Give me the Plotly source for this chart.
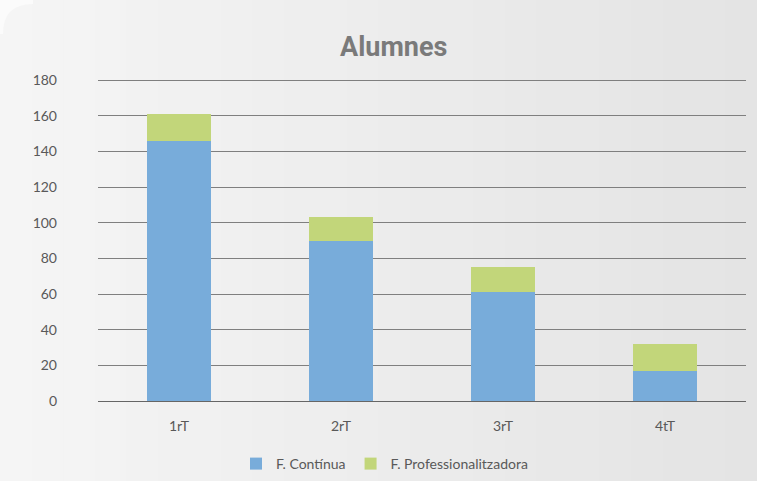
import plotly.graph_objects as go

categories = ["1rT", "2rT", "3rT", "4tT"]
continua = [146, 90, 61, 17]
professionalitzadora = [15, 13, 14, 15]
y_ticks = [0, 20, 40, 60, 80, 100, 120, 140, 160, 180]

W, H = 757, 481
ML, MR, MT, MB = 98, 11, 79, 80
PW, PH = W - ML - MR, H - MT - MB


def px(x):
    return (x - ML) / PW


def py(y):
    return (H - MB - y) / PH


fig = go.Figure()
fig.add_trace(go.Bar(x=categories, y=continua, name="F. Contínua",
                     marker=dict(color="#78ACDA", line=dict(width=0))))
fig.add_trace(go.Bar(x=categories, y=professionalitzadora, name="F. Professionalitzadora",
                     marker=dict(color="#C2D67A", line=dict(width=0))))

# background gradient strips (left light -> right darker)
n = 24
c0, c1 = 0xF5, 0xE4
for i in range(n):
    v = round(c0 + (c1 - c0) * i / (n - 1))
    col = f"rgb({v},{v},{v})"
    x0 = W * i / n
    x1 = W * (i + 1) / n + 1
    fig.add_shape(type="rect", xref="paper", yref="paper", layer="below",
                  x0=px(x0), x1=px(x1), y0=py(H), y1=py(0),
                  fillcolor=col, line=dict(width=0))
# rounded top-left corner (outer area lighter)
r = 30
fig.add_shape(type="path", xref="paper", yref="paper", layer="below",
              path=(f"M {px(0)},{py(0)} L {px(3 + r)},{py(0)} L {px(3 + r)},{py(4)} "
                    f"Q {px(3)},{py(4)} {px(3)},{py(4 + r)} L {px(0)},{py(4 + r)} Z"),
              fillcolor="#fbfbfb", line=dict(width=0))

fig.update_layout(
    width=W, height=H,
    barmode="stack", bargap=0.6,
    paper_bgcolor="#ececec", plot_bgcolor="rgba(0,0,0,0)",
    margin=dict(l=ML, r=MR, t=MT, b=MB),
    font=dict(family="Lato", color="#595959", size=14),
    showlegend=True,
    legend=dict(orientation="h", xref="container", yref="container",
                x=236 / W, xanchor="left", y=1 - 464 / H, yanchor="middle",
                font=dict(size=14, color="#595959"), itemwidth=30,
                traceorder="normal", bgcolor="rgba(0,0,0,0)"),
    xaxis=dict(showgrid=False, showline=False, ticks="", ticklabelstandoff=15,
               tickfont=dict(size=14, color="#595959")),
    yaxis=dict(range=[0, 180.6], tickvals=y_ticks, showgrid=True,
               gridcolor="#7f7f7f", gridwidth=1,
               zeroline=True, zerolinecolor="#666666", zerolinewidth=1,
               ticks="", ticklabelstandoff=40,
               tickfont=dict(size=14, color="#595959")),
)
fig.add_annotation(text="<b>Alumnes</b>", xref="paper", yref="paper",
                   x=px(393), y=py(47), xanchor="center", yanchor="middle",
                   showarrow=False,
                   font=dict(family="Roboto", size=27, color="#7a7a7a"))

fig.write_html("out.html", config={"displayModeBar": False},
               post_script="document.body.style.margin='0';document.body.style.overflow='hidden';")
